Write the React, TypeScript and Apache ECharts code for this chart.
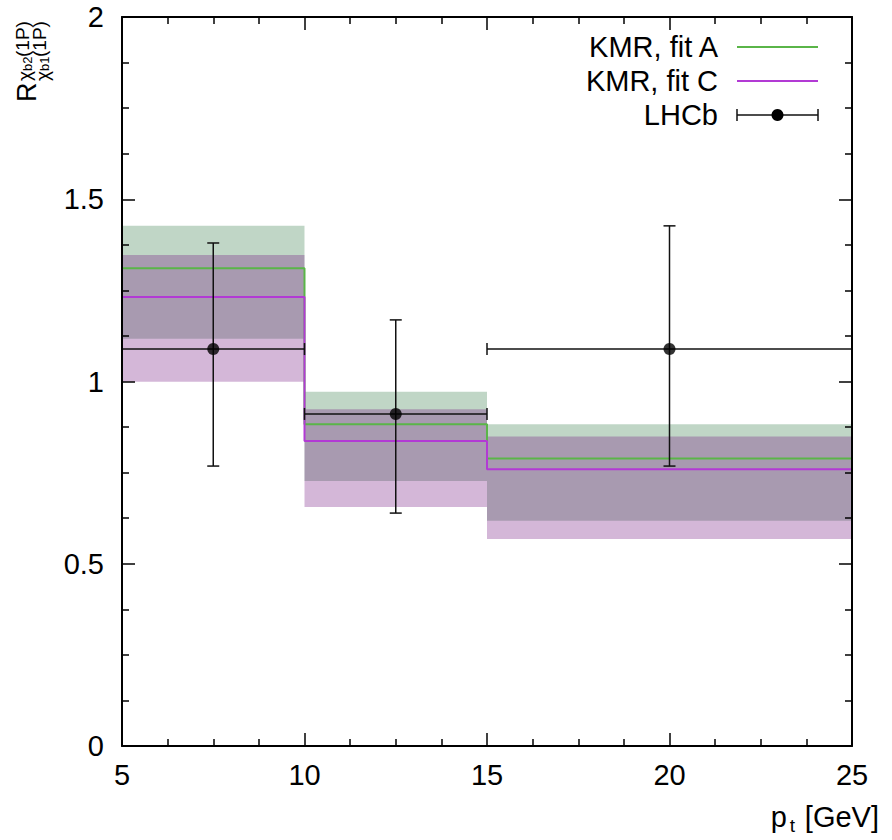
import React, { useEffect, useRef } from "react";
import * as echarts from "echarts";

const binEdges = [5, 10, 15, 25];
const fitALow = [1.117, 0.727, 0.618];
const fitAHigh = [1.427, 0.972, 0.883];
const fitACentral = [1.311, 0.883, 0.789];
const fitCLow = [0.999, 0.656, 0.568];
const fitCHigh = [1.347, 0.924, 0.849];
const fitCCentral = [1.232, 0.837, 0.759];
const lhcbX = [7.5, 12.5, 20];
const lhcbXLow = [5, 10, 15];
const lhcbXHigh = [10, 15, 25];
const lhcbY = [1.089, 0.911, 1.089];
const lhcbYLow = [0.768, 0.639, 0.768];
const lhcbYHigh = [1.38, 1.169, 1.427];
const legendLabels = ["KMR, fit A", "KMR, fit C", "LHCb"];

const FONT = '"Liberation Sans", Arial, sans-serif';
const GREEN = "#5ab548";
const PURPLE = "#b23ad4";
const GREEN_BAND = "rgba(45,118,65,0.3)";
const PURPLE_BAND = "rgba(112,18,125,0.3)";

function bandData(lo: number[], hi: number[]) {
  return lo.map((l, i) => [binEdges[i], binEdges[i + 1], l, hi[i]]);
}
function stepData(c: number[]) {
  const d = c.map((v, i) => [binEdges[i], v]);
  d.push([binEdges[binEdges.length - 1], c[c.length - 1]]);
  return d;
}

const bandRender = (fill: string) => (params: any, api: any) => {
  const p0 = api.coord([api.value(0), api.value(3)]);
  const p1 = api.coord([api.value(1), api.value(2)]);
  return {
    type: "rect",
    shape: { x: p0[0], y: p0[1], width: p1[0] - p0[0], height: p1[1] - p0[1] },
    style: { fill },
  };
};

const errRender = (params: any, api: any) => {
  const x = api.value(0), y = api.value(1);
  const c = api.coord([x, y]);
  const top = api.coord([x, api.value(5)]);
  const bot = api.coord([x, api.value(4)]);
  const l = api.coord([api.value(2), y]);
  const r = api.coord([api.value(3), y]);
  const cap = 6;
  const st = { stroke: "#111", lineWidth: 1.5 };
  const ln = (x1: number, y1: number, x2: number, y2: number) => ({
    type: "line",
    shape: { x1, y1, x2, y2 },
    style: st,
  });
  return {
    type: "group",
    children: [
      ln(c[0], top[1], c[0], bot[1]),
      ln(c[0] - cap, top[1], c[0] + cap, top[1]),
      ln(c[0] - cap, bot[1], c[0] + cap, bot[1]),
      ln(l[0], c[1], r[0], c[1]),
      ln(l[0], c[1] - cap, l[0], c[1] + cap),
      ln(r[0], c[1] - cap, r[0], c[1] + cap),
    ],
  };
};

function axisBase(extra: any) {
  return {
    type: "value",
    z: 10,
    axisLine: { show: true, onZero: false, lineStyle: { color: "#000", width: 2 } },
    axisTick: { show: true, inside: true, length: 13, lineStyle: { color: "#000", width: 1.5 } },
    minorTick: { show: true, splitNumber: 4, length: 7, lineStyle: { color: "#000", width: 1.5 } },
    splitLine: { show: false },
    minorSplitLine: { show: false },
    ...extra,
  };
}

export default function App() {
  const ref = useRef<HTMLDivElement>(null);
  useEffect(() => {
    document.body.style.margin = "0";
    const chart = echarts.init(ref.current!, null, { renderer: "svg" });
    const lblX = { fontSize: 29, color: "#000", fontFamily: FONT, margin: 14 };
    const lblY = { fontSize: 29, color: "#000", fontFamily: FONT, margin: 18 };
    const lx1 = 737, lx2 = 818, ly = [47, 81, 115];
    const labelChildren = (dy: number, sub: string) => [
      { type: "text", style: { text: "χ", x: 21, y: dy + 2.5, font: `19px ${FONT}`, align: "left", verticalAlign: "middle", fill: "#000" } },
      { type: "text", style: { text: sub, x: 31, y: dy + 5, font: `13px ${FONT}`, align: "left", verticalAlign: "middle", fill: "#000" } },
      { type: "text", style: { text: "(1P)", x: 45, y: dy, font: `19px ${FONT}`, align: "left", verticalAlign: "middle", fill: "#000" } },
    ];
    chart.setOption({
      animation: false,
      grid: { left: 122, right: 40, top: 17, bottom: 94 },
      xAxis: [
        axisBase({ min: 5, max: 25, interval: 5, position: "bottom", axisLabel: lblX }),
        axisBase({ min: 5, max: 25, interval: 5, position: "top", axisLabel: { show: false } }),
      ],
      yAxis: [
        axisBase({ min: 0, max: 2, interval: 0.5, position: "left", axisLabel: lblY }),
        axisBase({ min: 0, max: 2, interval: 0.5, position: "right", axisLabel: { show: false } }),
      ],
      series: [
        {
          type: "custom",
          name: "fit A band",
          renderItem: bandRender(GREEN_BAND),
          encode: { x: [0, 1], y: [2, 3] },
          data: bandData(fitALow, fitAHigh),
          z: 1,
        },
        {
          type: "custom",
          name: "fit C band",
          renderItem: bandRender(PURPLE_BAND),
          encode: { x: [0, 1], y: [2, 3] },
          data: bandData(fitCLow, fitCHigh),
          z: 1,
        },
        {
          type: "line",
          name: legendLabels[0],
          step: "end",
          showSymbol: false,
          lineStyle: { color: GREEN, width: 2 },
          itemStyle: { color: GREEN },
          data: stepData(fitACentral),
          z: 2,
        },
        {
          type: "line",
          name: legendLabels[1],
          step: "end",
          showSymbol: false,
          lineStyle: { color: PURPLE, width: 2 },
          itemStyle: { color: PURPLE },
          data: stepData(fitCCentral),
          z: 2,
        },
        {
          type: "custom",
          name: "LHCb errors",
          renderItem: errRender,
          encode: { x: [0, 2, 3], y: [1, 4, 5] },
          data: lhcbX.map((x, i) => [x, lhcbY[i], lhcbXLow[i], lhcbXHigh[i], lhcbYLow[i], lhcbYHigh[i]]),
          z: 3,
        },
        {
          type: "scatter",
          name: legendLabels[2],
          symbol: "circle",
          symbolSize: 12,
          itemStyle: { color: "#000" },
          data: lhcbX.map((x, i) => [x, lhcbY[i]]),
          z: 4,
        },
      ],
      graphic: [
        ...legendLabels.map((t, i) => ({
          type: "text",
          style: { text: t, x: 718, y: ly[i], font: `29px ${FONT}`, align: "right", verticalAlign: "middle", fill: "#000" },
        })),
        { type: "line", shape: { x1: lx1, y1: ly[0], x2: lx2, y2: ly[0] }, style: { stroke: GREEN, lineWidth: 2 } },
        { type: "line", shape: { x1: lx1, y1: ly[1], x2: lx2, y2: ly[1] }, style: { stroke: PURPLE, lineWidth: 2 } },
        { type: "line", shape: { x1: lx1, y1: ly[2], x2: lx2, y2: ly[2] }, style: { stroke: "#111", lineWidth: 1.5 } },
        { type: "line", shape: { x1: lx1, y1: ly[2] - 6, x2: lx1, y2: ly[2] + 6 }, style: { stroke: "#111", lineWidth: 1.5 } },
        { type: "line", shape: { x1: lx2, y1: ly[2] - 6, x2: lx2, y2: ly[2] + 6 }, style: { stroke: "#111", lineWidth: 1.5 } },
        { type: "circle", shape: { cx: (lx1 + lx2) / 2, cy: ly[2], r: 6 }, style: { fill: "#000" } },
        {
          type: "group",
          x: 36,
          y: 102,
          rotation: Math.PI / 2,
          children: [
            { type: "text", style: { text: "R", x: 0, y: -9.5, font: `27px ${FONT}`, align: "left", verticalAlign: "middle", fill: "#000" } },
            ...labelChildren(-14, "b2"),
            ...labelChildren(3.5, "b1"),
          ],
        },
        { type: "text", style: { text: "[GeV]", x: 879, y: 817, font: `29px ${FONT}`, align: "right", verticalAlign: "middle", fill: "#000" } },
        { type: "text", style: { text: "t", x: 795, y: 825, font: `19px ${FONT}`, align: "right", verticalAlign: "middle", fill: "#000" } },
        { type: "text", style: { text: "p", x: 787, y: 817, font: `29px ${FONT}`, align: "right", verticalAlign: "middle", fill: "#000" } },
      ],
    });
    return () => chart.dispose();
  }, []);
  return <div ref={ref} style={{ width: 892, height: 840 }} />;
}
